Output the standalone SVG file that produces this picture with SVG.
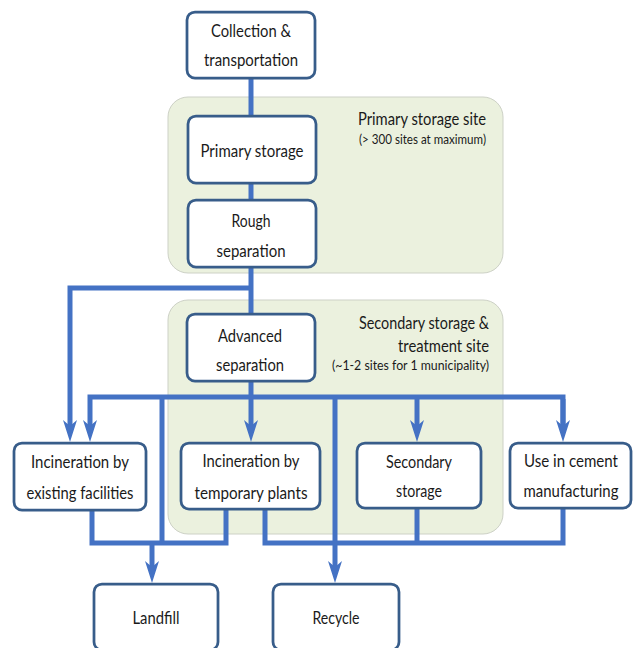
<svg xmlns="http://www.w3.org/2000/svg" width="640" height="648" viewBox="0 0 640 648">
<defs>
<style>
.site{fill:#ebf1de;stroke:#cdd1c6;stroke-width:1}
.box{fill:#ffffff;stroke:#385d8a;stroke-width:2.75}
.t{font-family:"Lato","Liberation Sans",sans-serif;font-size:18px;fill:#1a1a1a;text-anchor:middle}
.h{font-family:"Lato","Liberation Sans",sans-serif;font-size:18px;fill:#1a1a1a;text-anchor:end}
.s{font-family:"Lato","Liberation Sans",sans-serif;font-size:13.5px;fill:#1a1a1a;text-anchor:end}
.c{fill:none;stroke:#4472c4;stroke-width:5;stroke-linejoin:miter}
</style>
<marker id="arr" markerUnits="userSpaceOnUse" markerWidth="22" markerHeight="16" viewBox="0 0 22 16" refX="13" refY="8" orient="auto">
<path d="M0,1 L22,8 L0,15 L6,8 Z" fill="#4472c4"/>
</marker>
</defs>
<rect width="640" height="648" fill="#ffffff"/>

<g id="site-primary">
<rect class="site" x="168" y="97" width="335" height="176" rx="20"/>
<text class="h" x="486" y="125" textLength="128" lengthAdjust="spacingAndGlyphs">Primary storage site</text>
<text class="s" x="486" y="144" textLength="127" lengthAdjust="spacingAndGlyphs">(&gt; 300 sites at maximum)</text>
</g>
<g id="site-secondary">
<rect class="site" x="168" y="300" width="335" height="234" rx="20"/>
<text class="h" x="489" y="329" textLength="130" lengthAdjust="spacingAndGlyphs">Secondary storage &amp;</text>
<text class="h" x="489" y="352" textLength="91" lengthAdjust="spacingAndGlyphs">treatment site</text>
<text class="s" x="489" y="370" textLength="157" lengthAdjust="spacingAndGlyphs">(~1-2 sites for 1 municipality)</text>
</g>

<g id="connectors">
<line class="c" x1="251" y1="78" x2="251" y2="116"/>
<line class="c" x1="251" y1="183" x2="251" y2="200"/>
<line class="c" x1="251" y1="267" x2="251" y2="314"/>
<polyline class="c" points="253,288 70,288 70,433" marker-end="url(#arr)"/>
<line class="c" x1="251" y1="381" x2="251" y2="433" marker-end="url(#arr)"/>
<polyline class="c" points="563,433 563,397 90,397 90,433" marker-end="url(#arr)"/>
<line class="c" x1="563" y1="399" x2="563" y2="433" marker-end="url(#arr)"/>
<line class="c" x1="417" y1="397" x2="417" y2="433" marker-end="url(#arr)"/>
<line class="c" x1="162" y1="397" x2="162" y2="543"/>
<line class="c" x1="335" y1="397" x2="335" y2="574" marker-end="url(#arr)"/>
<polyline class="c" points="92,510 92,543 226,543 226,509"/>
<line class="c" x1="152" y1="543" x2="152" y2="574" marker-end="url(#arr)"/>
<polyline class="c" points="265,509 265,543 563,543 563,508"/>
<line class="c" x1="417" y1="508" x2="417" y2="543"/>
</g>

<g id="collection">
<rect class="box" x="187" y="12" width="128" height="66" rx="8"/>
<text class="t" x="251" y="37" textLength="80" lengthAdjust="spacingAndGlyphs">Collection &amp;</text>
<text class="t" x="251" y="66" textLength="94" lengthAdjust="spacingAndGlyphs">transportation</text>
</g>
<g id="primary-storage">
<rect class="box" x="188" y="116" width="128" height="67" rx="8"/>
<text class="t" x="252" y="157" textLength="103" lengthAdjust="spacingAndGlyphs">Primary storage</text>
</g>
<g id="rough-separation">
<rect class="box" x="188" y="200" width="128" height="67" rx="8"/>
<text class="t" x="251" y="227" textLength="39" lengthAdjust="spacingAndGlyphs">Rough</text>
<text class="t" x="251" y="257" textLength="69" lengthAdjust="spacingAndGlyphs">separation</text>
</g>
<g id="advanced-separation">
<rect class="box" x="187" y="314" width="128" height="67" rx="8"/>
<text class="t" x="250" y="342" textLength="64" lengthAdjust="spacingAndGlyphs">Advanced</text>
<text class="t" x="250" y="371" textLength="68" lengthAdjust="spacingAndGlyphs">separation</text>
</g>
<g id="incineration-existing">
<rect class="box" x="14" y="443" width="132" height="67" rx="8"/>
<text class="t" x="80" y="468" textLength="98" lengthAdjust="spacingAndGlyphs">Incineration by</text>
<text class="t" x="80" y="499" textLength="107" lengthAdjust="spacingAndGlyphs">existing facilities</text>
</g>
<g id="incineration-temporary">
<rect class="box" x="181" y="443" width="139" height="66" rx="8"/>
<text class="t" x="251" y="467" textLength="97" lengthAdjust="spacingAndGlyphs">Incineration by</text>
<text class="t" x="251" y="499" textLength="113" lengthAdjust="spacingAndGlyphs">temporary plants</text>
</g>
<g id="secondary-storage">
<rect class="box" x="357" y="443" width="124" height="65" rx="8"/>
<text class="t" x="419" y="468" textLength="66" lengthAdjust="spacingAndGlyphs">Secondary</text>
<text class="t" x="419" y="497" textLength="46" lengthAdjust="spacingAndGlyphs">storage</text>
</g>
<g id="cement">
<rect class="box" x="510" y="443" width="121" height="65" rx="8"/>
<text class="t" x="571" y="467" textLength="94" lengthAdjust="spacingAndGlyphs">Use in cement</text>
<text class="t" x="571" y="497" textLength="95" lengthAdjust="spacingAndGlyphs">manufacturing</text>
</g>
<g id="landfill">
<rect class="box" x="94" y="584" width="124" height="66" rx="8"/>
<text class="t" x="156" y="624" textLength="47" lengthAdjust="spacingAndGlyphs">Landfill</text>
</g>
<g id="recycle">
<rect class="box" x="273" y="584" width="126" height="66" rx="8"/>
<text class="t" x="336" y="624" textLength="47" lengthAdjust="spacingAndGlyphs">Recycle</text>
</g>
</svg>
